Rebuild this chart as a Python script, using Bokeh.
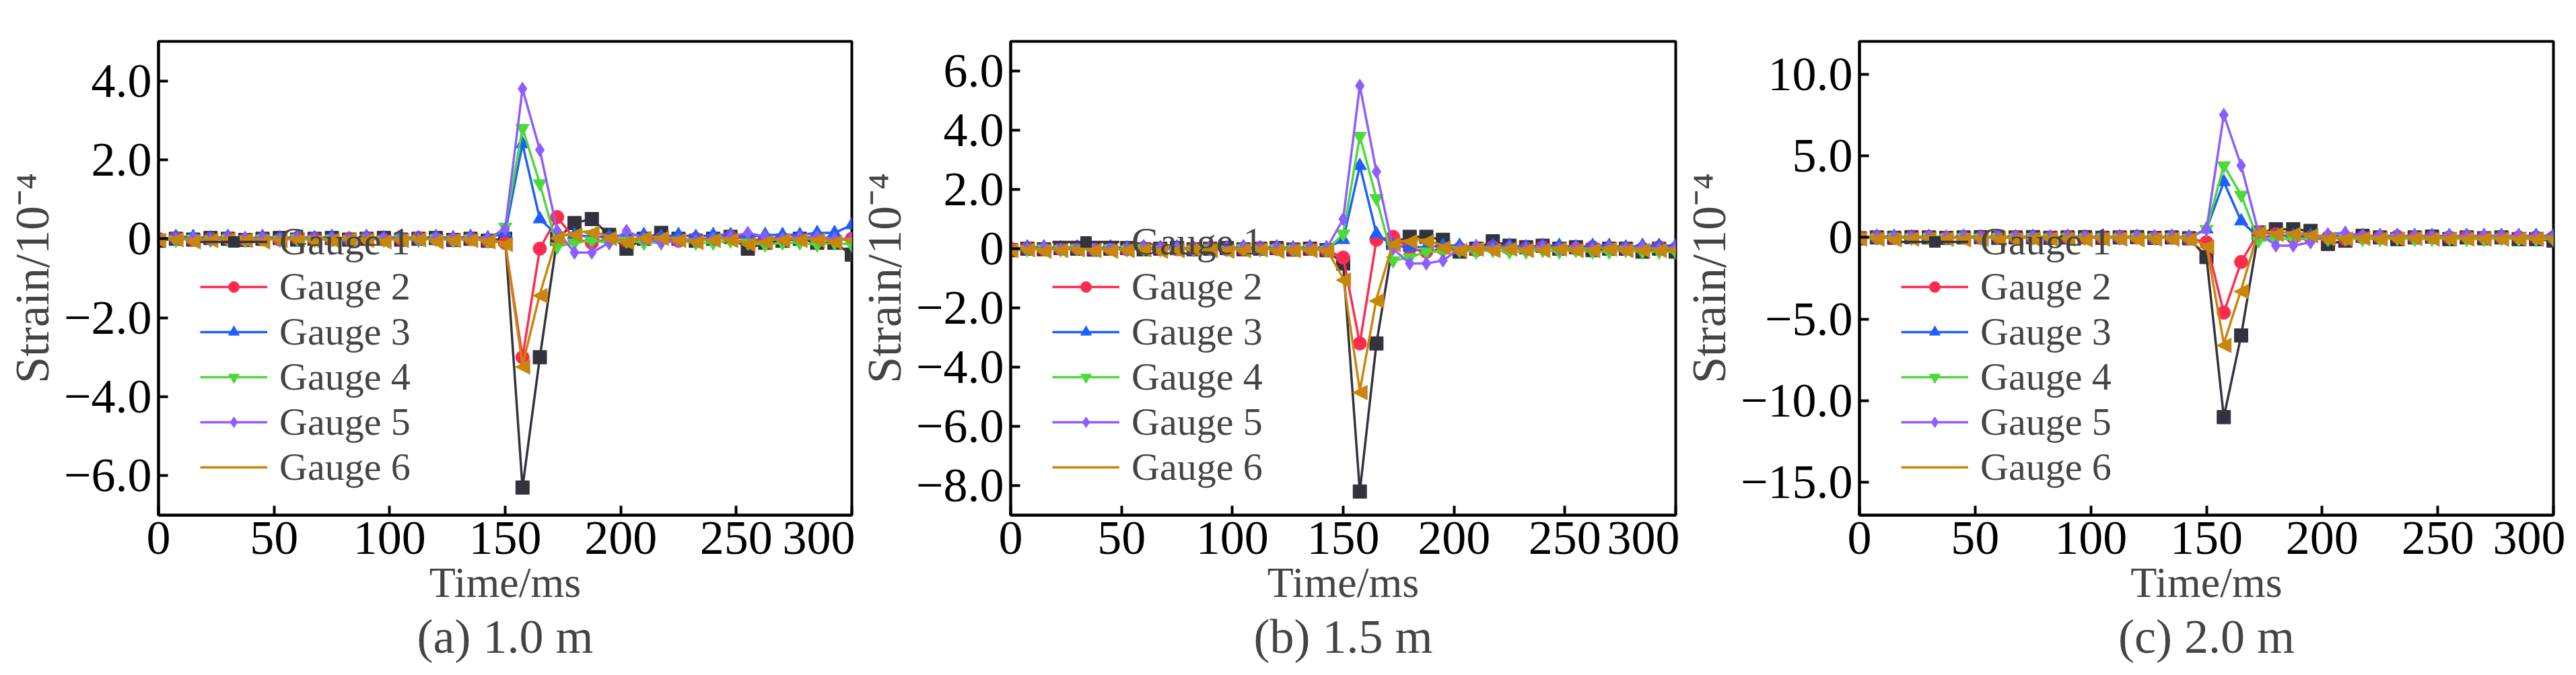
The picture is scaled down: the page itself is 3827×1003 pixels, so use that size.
import numpy as np
from bokeh.plotting import figure
from bokeh.layouts import row
from bokeh.models import Range1d, FixedTicker, CustomJSTickFormatter, Legend, LegendItem, Title, ColumnDataSource
from bokeh.core.properties import value
from bokeh.embed import file_html
from bokeh.resources import INLINE

time_ms = [0, 7.5, 15, 22.5, 30, 37.5, 45, 52.5, 60, 67.5, 75, 82.5, 90, 97.5, 105, 112.5, 120, 127.5, 135, 142.5,
           150, 157.5, 165, 172.5, 180, 187.5, 195, 202.5, 210, 217.5, 225, 232.5, 240, 247.5, 255, 262.5, 270, 277.5, 285, 292.5, 300]

labels = ["Gauge 1", "Gauge 2", "Gauge 3", "Gauge 4", "Gauge 5", "Gauge 6"]
colors = ["#33333f", "#ff2a50", "#1f5fff", "#4cd93a", "#8f5cff", "#c8860a"]
markers = ["square", "circle", "triangle", "inverted_triangle", "diamond", "left_triangle"]

pre_1 = [-0.05, 0.0, -0.02, 0.02, 0.0, -0.03, 0.0, 0.02, -0.02, 0.0, 0.02, -0.02, 0.0, 0.02, -0.02, 0.0, 0.02, -0.03, 0.0, -0.05]
pre_2 = [0.0, 0.02, -0.02, 0.0, 0.02, -0.02, 0.0, -0.02, 0.02, 0.0, -0.02, 0.0, 0.02, -0.02, 0.0, 0.02, 0.0, -0.02, 0.0, -0.05]
pre_3 = [-0.05, 0.05, 0.05, 0.02, 0.05, 0.0, 0.05, 0.02, 0.05, 0.02, 0.05, 0.0, 0.05, 0.02, 0.05, 0.02, 0.05, 0.02, 0.05, 0.02]
pre_4 = [0.0, -0.03, 0.0, -0.03, 0.0, -0.03, 0.0, -0.03, 0.0, -0.03, 0.0, -0.03, 0.0, -0.03, 0.0, -0.03, 0.0, -0.03, 0.0, -0.05]
pre_5 = [0.02, 0.0, 0.02, -0.02, 0.02, 0.0, 0.02, -0.02, 0.02, 0.0, 0.02, -0.02, 0.02, 0.0, 0.02, -0.02, 0.02, 0.0, 0.02, 0.0]
pre_6 = [0.0, 0.02, -0.02, 0.0, 0.02, 0.0, -0.02, 0.0, 0.02, -0.02, 0.0, 0.02, 0.0, -0.02, 0.0, 0.02, -0.02, 0.0, 0.0, -0.02]

# panel (a) 1.0 m, values t >= 150
a_g1 = [0.0, -6.3, -3.0, 0.0, 0.4, 0.5, 0.1, -0.25, 0.0, 0.15, 0.0, -0.05, 0.0, 0.05, -0.25, -0.1, -0.05, 0.0, -0.1, -0.1, -0.4]
a_g2 = [-0.1, -3.0, -0.25, 0.55, 0.0, -0.1, 0.0, -0.05, 0.0, 0.0, -0.05, 0.0, 0.0, 0.05, 0.0, -0.05, 0.0, 0.0, 0.05, 0.0, 0.0]
a_g3 = [0.15, 2.4, 0.5, 0.1, 0.1, 0.05, 0.05, 0.1, 0.1, 0.05, 0.1, 0.05, 0.1, 0.1, 0.05, 0.1, 0.1, 0.1, 0.15, 0.15, 0.35]
a_g4 = [0.3, 2.8, 1.4, -0.2, -0.1, -0.05, -0.1, -0.05, -0.1, -0.1, -0.05, -0.1, -0.1, -0.05, -0.1, -0.15, -0.1, -0.1, -0.15, -0.1, -0.15]
a_g5 = [0.25, 3.8, 2.25, 0.2, -0.35, -0.35, -0.1, 0.2, 0.0, -0.1, -0.05, -0.05, 0.0, 0.05, 0.15, 0.05, 0.0, 0.05, 0.05, 0.0, 0.0]
a_g6 = [-0.1, -3.2, -1.4, 0.05, 0.15, 0.2, 0.05, -0.05, 0.05, 0.05, 0.0, -0.05, 0.0, 0.0, -0.1, -0.05, 0.0, 0.0, 0.0, -0.05, 0.0]

# panel (b) 1.5 m
b_g1 = [-0.5, -8.2, -3.2, 0.2, 0.4, 0.4, 0.3, -0.1, 0.0, 0.25, 0.1, 0.05, 0.1, 0.0, 0.05, -0.05, 0.0, 0.0, -0.1, 0.0, -0.1]
b_g2 = [-0.3, -3.2, 0.3, 0.4, 0.0, -0.1, 0.0, 0.0, -0.05, 0.05, 0.0, 0.0, 0.05, 0.0, 0.0, 0.05, 0.0, 0.0, 0.0, 0.05, 0.0]
b_g3 = [0.3, 2.8, 0.5, 0.1, 0.05, 0.05, 0.1, 0.1, 0.05, 0.1, 0.1, 0.05, 0.1, 0.1, 0.05, 0.1, 0.1, 0.05, 0.1, 0.1, 0.1]
b_g4 = [0.5, 3.8, 1.7, -0.4, -0.3, -0.1, -0.1, -0.05, -0.1, -0.05, -0.1, -0.1, -0.05, -0.1, -0.05, -0.1, -0.1, -0.05, -0.1, -0.1, -0.1]
b_g5 = [1.0, 5.5, 2.6, 0.0, -0.5, -0.5, -0.4, 0.0, 0.1, 0.0, 0.05, 0.0, 0.05, 0.0, 0.05, 0.0, 0.05, 0.0, 0.05, 0.0, 0.05]
b_g6 = [-1.0, -4.8, -1.7, 0.2, 0.3, 0.3, 0.1, 0.0, 0.05, 0.0, 0.05, 0.0, 0.0, 0.05, 0.0, 0.0, 0.05, 0.0, 0.0, 0.0, 0.0]

# panel (c) 2.0 m
c_g1 = [-1.2, -11.0, -6.0, 0.3, 0.5, 0.5, 0.4, -0.4, -0.2, 0.1, 0.0, -0.1, 0.0, 0.05, -0.1, 0.0, -0.05, 0.0, -0.1, -0.1, -0.2]
c_g2 = [-0.3, -4.6, -1.5, 0.3, 0.2, 0.0, 0.0, 0.0, -0.1, 0.0, 0.0, 0.05, 0.0, 0.0, 0.0, 0.05, 0.0, 0.0, 0.0, 0.0, 0.0]
c_g3 = [0.5, 3.4, 1.0, 0.0, 0.1, 0.1, 0.1, 0.1, 0.1, 0.1, 0.1, 0.1, 0.1, 0.1, 0.1, 0.1, 0.1, 0.1, 0.1, 0.1, 0.1]
c_g4 = [0.5, 4.4, 2.6, -0.2, -0.1, -0.1, -0.1, -0.1, -0.05, -0.1, -0.1, -0.05, -0.1, -0.1, -0.05, -0.1, -0.1, -0.05, -0.1, -0.1, -0.1]
c_g5 = [0.5, 7.5, 4.4, 0.3, -0.5, -0.5, -0.3, 0.2, 0.3, 0.1, 0.1, 0.05, 0.1, 0.05, 0.1, 0.05, 0.1, 0.05, 0.1, 0.05, 0.05]
c_g6 = [-0.5, -6.5, -3.2, 0.4, 0.3, 0.3, 0.2, 0.0, 0.0, 0.05, 0.0, 0.0, 0.05, 0.0, 0.0, 0.0, 0.0, 0.0, 0.0, 0.0, 0.0]

pres = [pre_1, pre_2, pre_3, pre_4, pre_5, pre_6]
panels = [
    dict(title="(a) 1.0 m", post=[a_g1, a_g2, a_g3, a_g4, a_g5, a_g6], yr=(-7, 5), ticks=[-6, -4, -2, 0, 2, 4],
         left=235, right=5, width=1270),
    dict(title="(b) 1.5 m", post=[b_g1, b_g2, b_g3, b_g4, b_g5, b_g6], yr=(-9, 7), ticks=[-8, -6, -4, -2, 0, 2, 4, 6],
         left=230, right=6, width=1225),
    dict(title="(c) 2.0 m", post=[c_g1, c_g2, c_g3, c_g4, c_g5, c_g6], yr=(-17, 12), ticks=[-15, -10, -5, 0, 5, 10],
         left=220, right=18, width=1316),
]

FONT = "Liberation Serif"
FS = "64px"
LFS = "58px"
TFS = "72px"
figs = []
for pan in panels:
    p = figure(width=pan["width"], height=985, output_backend="svg", toolbar_location=None,
               x_range=Range1d(0, 300), y_range=Range1d(*pan["yr"]),
               min_border_left=pan["left"], min_border_right=pan["right"],
               min_border_top=61, min_border_bottom=213)
    p.grid.visible = False
    p.outline_line_color = "black"
    p.outline_line_width = 4
    p.background_fill_color = "white"
    items = []
    for i in range(6):
        y = pres[i] + pan["post"][i]
        src = ColumnDataSource(dict(x=time_ms, y=y))
        l = p.line("x", "y", source=src, line_color=colors[i], line_width=3.5)
        if markers[i] == "left_triangle":
            s = p.text("x", "y", source=src, text=value("\u25c0"), text_font=value("DejaVu Sans"),
                       text_font_size="30px", text_color=colors[i], text_align="center",
                       text_baseline="middle")
        else:
            s = p.scatter("x", "y", source=src, marker=markers[i], size=20,
                          fill_color=colors[i], line_color=colors[i])
        items.append(LegendItem(label=labels[i], renderers=[l, s]))
    leg = Legend(items=items, location=(62, 38), background_fill_alpha=0, border_line_alpha=0,
                 label_text_font=FONT, label_text_font_size=LFS, glyph_width=100, glyph_height=40,
                 label_height=40, spacing=0, padding=0, margin=0, label_standoff=18,
                 label_text_line_height=0.9)
    p.add_layout(leg, "center")
    for ax in (p.xaxis[0], p.yaxis[0]):
        ax.axis_line_width = 4
        ax.major_tick_in = 14
        ax.major_tick_out = 0
        ax.major_tick_line_width = 4
        ax.minor_tick_line_color = None
        ax.major_label_text_font = FONT
        ax.major_label_text_font_size = TFS
        ax.axis_label_text_font = FONT
        ax.axis_label_text_font_size = FS
        ax.axis_label_text_font_style = "normal"
        ax.major_label_text_color = "black"
        ax.major_label_standoff = 10
    p.yaxis.axis_label_text_font_size = TFS
    p.xaxis.ticker = FixedTicker(ticks=[0, 50, 100, 150, 200, 250, 300])
    p.yaxis.ticker = FixedTicker(ticks=pan["ticks"])
    p.xaxis.axis_label = "Time/ms"
    p.xaxis.axis_label_standoff = 4
    p.yaxis.axis_label = "Strain/10\u207b\u2074"
    p.yaxis.axis_label_standoff = 4
    p.yaxis.formatter = CustomJSTickFormatter(code="return tick == 0 ? '0' : tick.toFixed(1).replace('-', '\u2212');")
    p.add_layout(Title(text=pan["title"], align="center", text_font=FONT, text_font_size=TFS,
                       text_font_style="normal", standoff=0), "below")
    figs.append(p)

layout = row(*figs)
open("out.html", "w").write(file_html(layout, INLINE))
